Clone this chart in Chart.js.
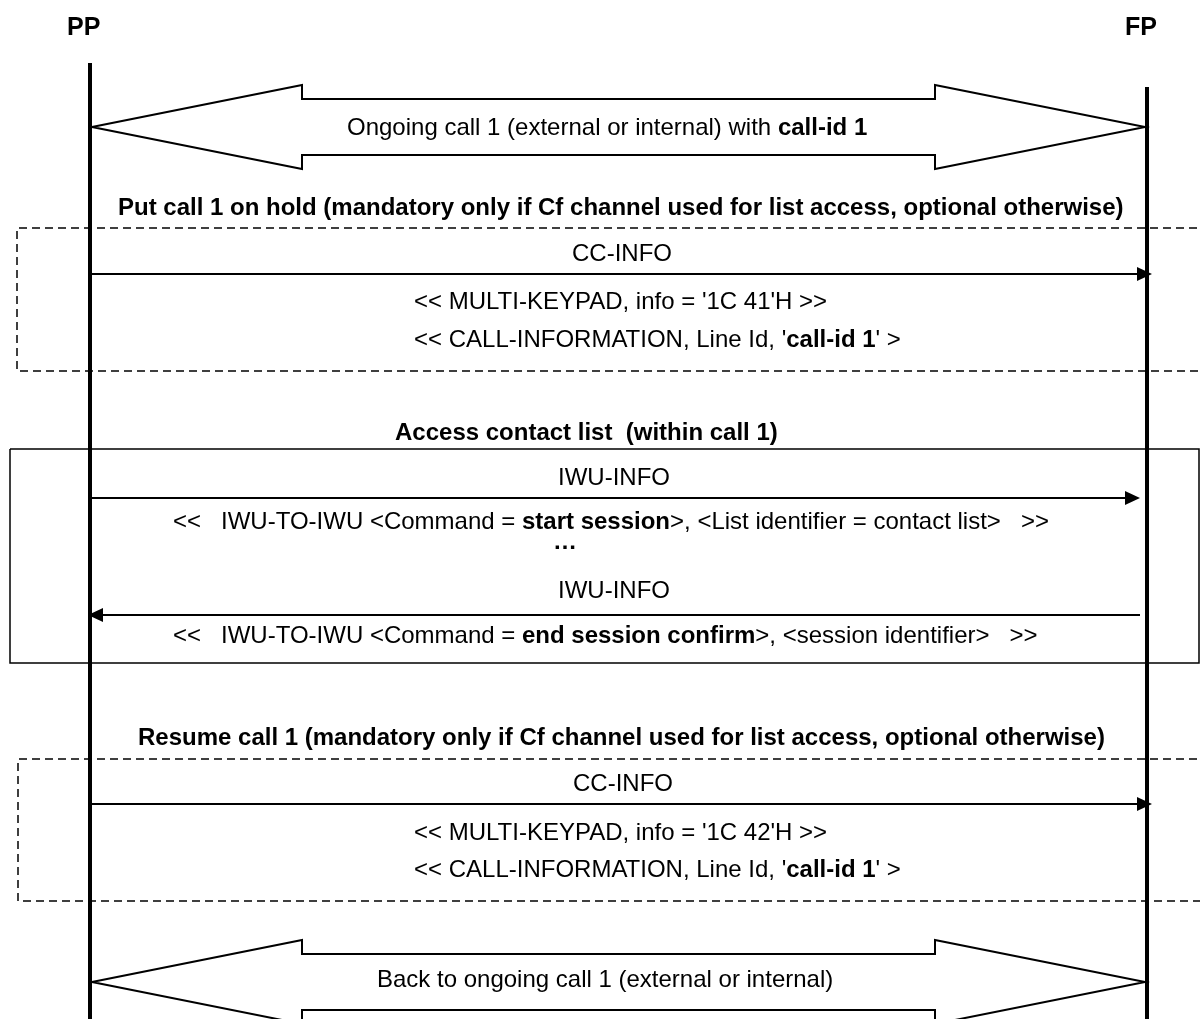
<!DOCTYPE html>
<html>
<head>
<meta charset="utf-8">
<script src="https://cdn.jsdelivr.net/npm/chart.js@4.4.1/dist/chart.umd.min.js"></script>
<style>
  html, body { margin: 0; padding: 0; background: #fff; }
  #wrap { width: 1200px; height: 1019px; }
</style>
</head>
<body>
<div id="wrap"><canvas id="seq" width="1200" height="1019"></canvas></div>
<script>
"use strict";
// lifelines: PP on the left, FP on the right
const lifeNames = ["PP", "FP"];
const lifeX = [90, 1147];
const lifeTop = [63, 87];
const lifeLabelX = [67, 1125];
const lifeLabelY = [35, 35];

// thin message arrows (from -> to, at y)
const msgY = [274, 498, 615, 804];
const msgFrom = [90, 90, 1140, 90];
const msgTo = [1152, 1140, 88, 1152];

// the two big "ongoing call" block arrows, y of the tips
const blockY = [127, 982];

// frames round the procedures
const boxLeft = [17, 10, 18];
const boxRight = [1210, 1199, 1210];
const boxTop = [228, 449, 759];
const boxBottom = [371, 663, 901];
const boxDashed = [true, false, true];

// texts, **...** marks bold parts
const labelText = [
  "Ongoing call 1 (external or internal) with **call-id 1**",
  "**Put call 1 on hold (mandatory only if Cf channel used for list access, optional otherwise)**",
  "CC-INFO",
  "<< MULTI-KEYPAD, info = '1C 41'H >>",
  "<< CALL-INFORMATION, Line Id, '**call-id 1**' >",
  "**Access contact list  (within call 1)**",
  "IWU-INFO",
  "<<   IWU-TO-IWU <Command = **start session**>, <List identifier = contact list>   >>",
  "**\u2026**",
  "IWU-INFO",
  "<<   IWU-TO-IWU <Command = **end session confirm**>, <session identifier>   >>",
  "**Resume call 1 (mandatory only if Cf channel used for list access, optional otherwise)**",
  "CC-INFO",
  "<< MULTI-KEYPAD, info = '1C 42'H >>",
  "<< CALL-INFORMATION, Line Id, '**call-id 1**' >",
  "Back to ongoing call 1 (external or internal)"
];
const labelX = [347, 118, 572, 414, 414, 395, 558, 173, 553, 558, 173, 138, 573, 414, 414, 377];
const labelY = [135, 215, 261, 309, 347, 440, 485, 529, 549, 598, 643, 745, 791, 840, 877, 987];

const FONT = '"Liberation Sans", Arial, sans-serif';

function line(points, width, dash, order) {
  return {
    data: points,
    showLine: true,
    borderColor: "#000",
    borderWidth: width,
    borderDash: dash || [],
    pointRadius: 0,
    fill: false,
    tension: 0,
    borderCapStyle: "butt",
    borderJoinStyle: "miter",
    order: order
  };
}

let datasets = [];

// lifelines on top of everything else
lifeX.forEach((x, i) => {
  datasets.push(line([{ x: x, y: lifeTop[i] }, { x: x, y: 1019 }], 4, null, 0));
});

// block arrows
blockY.forEach(y => {
  const pts = [
    [92, y], [302, y - 42], [302, y - 28], [935, y - 28], [935, y - 42],
    [1145, y], [935, y + 42], [935, y + 28], [302, y + 28], [302, y + 42], [92, y]
  ].map(p => ({ x: p[0], y: p[1] }));
  datasets.push(line(pts, 2, null, 2));
});

// frames (dashed ones run out past the right edge)
boxLeft.forEach((l, i) => {
  let pts;
  if (boxDashed[i]) {
    pts = [[boxRight[i], boxTop[i]], [l, boxTop[i]], [l, boxBottom[i]], [boxRight[i], boxBottom[i]]];
  } else {
    pts = [[l, boxTop[i]], [boxRight[i], boxTop[i]], [boxRight[i], boxBottom[i]], [l, boxBottom[i]], [l, boxTop[i]]];
  }
  datasets.push(line(pts.map(p => ({ x: p[0], y: p[1] })), 1.5, boxDashed[i] ? [8, 5] : null, 3));
});

// message lines (heads drawn by plugin)
msgY.forEach((y, i) => {
  const dir = Math.sign(msgTo[i] - msgFrom[i]);
  datasets.push(line([{ x: msgFrom[i], y: y }, { x: msgTo[i] - dir * 8, y: y }], 2, null, 1));
});

// arrow heads and texts
const seqDecor = {
  id: "seqDecor",
  afterDatasetsDraw(chart) {
    const ctx = chart.ctx;
    const xs = chart.scales.x;
    const ys = chart.scales.y;
    ctx.save();
    ctx.fillStyle = "#000";
    msgY.forEach((y, i) => {
      const dir = Math.sign(msgTo[i] - msgFrom[i]);
      const tx = xs.getPixelForValue(msgTo[i]);
      const ty = ys.getPixelForValue(y);
      ctx.beginPath();
      ctx.moveTo(tx, ty);
      ctx.lineTo(tx - dir * 15, ty - 7);
      ctx.lineTo(tx - dir * 15, ty + 7);
      ctx.closePath();
      ctx.fill();
    });

    ctx.textBaseline = "alphabetic";
    ctx.textAlign = "left";
    lifeNames.forEach((n, i) => {
      ctx.font = "bold 25px " + FONT;
      ctx.fillText(n, xs.getPixelForValue(lifeLabelX[i]), ys.getPixelForValue(lifeLabelY[i]));
    });
    labelText.forEach((t, i) => {
      let x = xs.getPixelForValue(labelX[i]);
      const y = ys.getPixelForValue(labelY[i]);
      t.split("**").forEach((part, k) => {
        if (!part) return;
        ctx.font = (k % 2 ? "bold " : "") + "24px " + FONT;
        ctx.fillText(part, x, y);
        x += ctx.measureText(part).width;
      });
    });
    ctx.restore();
  }
};

new Chart(document.querySelector("#seq"), {
  type: "scatter",
  data: { datasets: datasets },
  options: {
    responsive: false,
    animation: false,
    devicePixelRatio: 1,
    events: [],
    layout: { padding: 0 },
    plugins: { legend: { display: false }, tooltip: { enabled: false } },
    scales: {
      x: { type: "linear", min: 0, max: 1200, display: false },
      y: { type: "linear", min: 0, max: 1019, reverse: true, display: false }
    }
  },
  plugins: [seqDecor]
});
</script>
</body>
</html>
